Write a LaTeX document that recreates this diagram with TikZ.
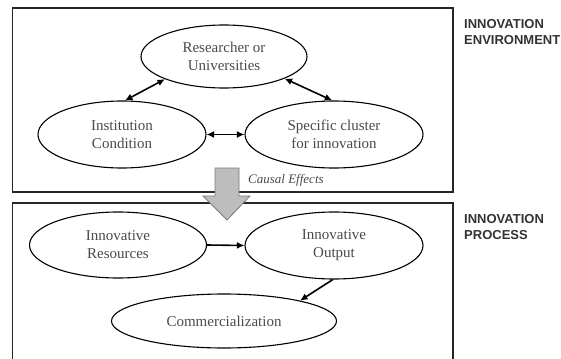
\documentclass[tikz,border=0pt]{standalone}
\usepackage{fontspec}
\setmainfont{Liberation Serif}
\newfontfamily\labelfont{Liberation Sans}
\usetikzlibrary{shapes.geometric,arrows.meta}
\definecolor{txtgray}{HTML}{4A4A4A}
\definecolor{lblgray}{HTML}{333333}
\definecolor{arrowfill}{HTML}{BDBDBD}
\definecolor{arrowedge}{HTML}{7A7A7A}
\begin{document}
\begin{tikzpicture}[x=1pt,y=-1pt,
  oval/.style={ellipse,draw=black,line width=1.1pt,inner sep=0pt,align=center,text=txtgray,font=\fontsize{15}{18}\selectfont},
  frame/.style={draw=black!85,line width=1.3pt},
  link/.style={line width=1.6pt,-{Latex[length=7.5pt,width=7pt]}},
  dlink/.style={line width=1.6pt,{Latex[length=7.5pt,width=7pt]}-{Latex[length=7.5pt,width=7pt]}},
  side/.style={anchor=west,align=left,inner sep=0pt,text=lblgray,font=\labelfont\bfseries\fontsize{13}{16}\selectfont}]
\useasboundingbox (0,0) rectangle (561,358);

% frames
\draw[frame] (12.5,8) rectangle (453,192);
\draw[frame] (12.5,362) -- (12.5,203) -- (453,203) -- (453,362);

% environment
\node[oval,minimum width=166pt,minimum height=63pt] (R) at (224,56.5) {Researcher or\\Universities};
\node[oval,minimum width=168pt,minimum height=67pt] (I) at (122,134.5) {Institution\\Condition};
\node[oval,minimum width=178pt,minimum height=67pt] (S) at (334,134.5) {Specific cluster\\for innovation};

\draw[dlink] (R.201) -- (I.85);
\draw[dlink] (R.340) -- (S.93);
\draw[dlink] (I.east) -- (S.west);

% process
\node[oval,minimum width=177pt,minimum height=66pt] (IR) at (118,245) {Innovative\\Resources};
\node[oval,minimum width=178pt,minimum height=67pt] (IO) at (334,245.5) {Innovative\\Output};
\node[oval,minimum width=225pt,minimum height=54pt] (C) at (224,321) {Commercialization};

\draw[link] (IR.east) -- (IO.west);
\draw[link] (IO.268) -- (C.15);

% causal effects
\node[anchor=west,inner sep=0pt,text=txtgray,font=\itshape\fontsize{13}{15}\selectfont] (CE) at (248,180) {Causal Effects};
\draw[fill=arrowfill,draw=arrowedge,line width=0.8pt,line join=miter]
  (215,168) -- (239,168) -- (239,196) -- (250,196) -- (227,220) -- (203,196) -- (215,196) -- cycle;

% side labels
\node[side] (L1) at (464,32) {INNOVATION\\ENVIRONMENT};
\node[side] (L2) at (464,227) {INNOVATION\\PROCESS};
\end{tikzpicture}
\end{document}
